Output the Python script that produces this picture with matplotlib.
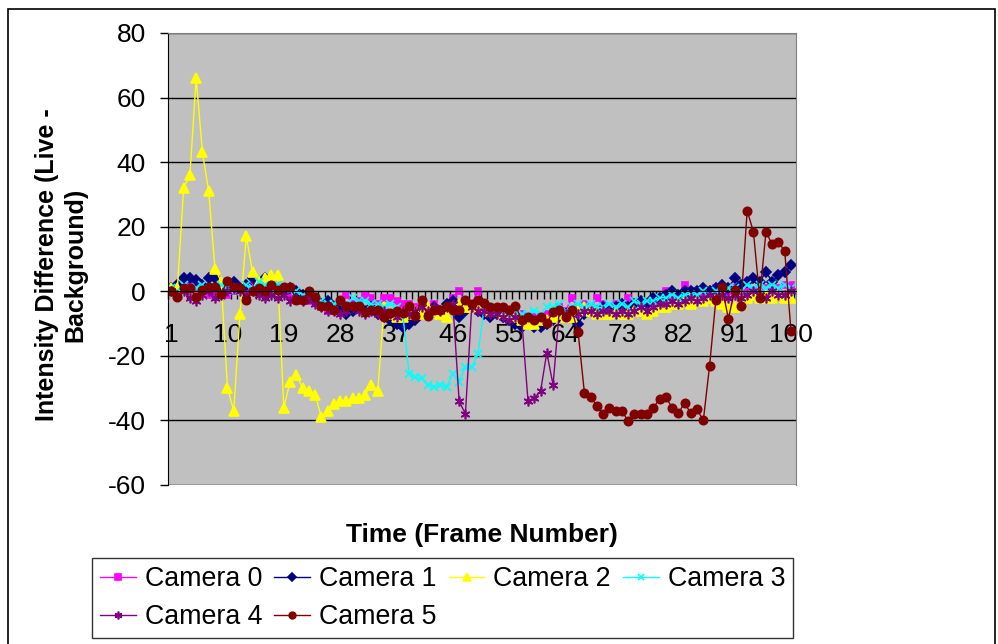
import matplotlib.pyplot as plt
from matplotlib.patches import Rectangle

plt.rcParams['font.family'] = ['Liberation Sans', 'DejaVu Sans']
plt.rcParams['axes.unicode_minus'] = False

# frame numbers and per-camera intensity differences (live - background)
frames = list(range(1, 101))

camera0 = [1, 0, 1, 2, 1, 0, -1, 0, 1, -1,
           0, 1, 1, 2, 3, 2, 2, 1, 0, -1,
           -1, -2, -3, -2, -4, -6, -6, -4, -1, -4,
           -3, -1, -2, -4, -2, -2, -3, -4, -4, -5,
           -6, -5, -4, -6, -5, -2, 0, -3, -4, 0,
           -4, -5, -6, -6, -7, -8, -7, -9, -8, -8,
           -7, -6, -5, -6, -2, -5, -4, -5, -2, -4,
           -5, -4, -5, -2, -4, -3, -4, -3, -2, 0,
           -1, -1, 2, 0, 0, -1, 0, 1, -4, 0,
           1, 0, 1, 0, 2, 1, 0, 1, 2, 2]

camera1 = [1, 2, 4, 4, 3.5, 2, 4, 4, 2, 1,
           3, 1, 2, 4, 2, 4, 2, 1, 0, 1,
           0, -1, -2, -3, -4, -3, -5, -6, -7, -6,
           -5, -6, -5, -7, -8, -9, -10, -11, -10, -9,
           -7, -6, -5, -6, -4, -3, -8, -6, -5, -6,
           -7, -8, -7, -8, -9, -10, -11, -10, -11, -11,
           -10, -9, -8, -7, -8, -10, -7, -6, -6, -5,
           -6, -5, -4, -5, -4, -3, -4, -2, -2, -1,
           0, -1, 0, 0, 0, 1, 0, 1, 2, 1,
           4, 2, 3, 4, 3, 6, 3, 5, 6, 8]

camera2 = [1, 1, 32, 36, 66, 43, 31, 7, 3, -30,
           -37, -7, 17, 6, 3, 4, 5, 5, -36, -28,
           -26, -30, -31, -32, -39, -37, -35, -34, -34, -33,
           -33, -32, -29, -31, -5, -7, -8, -8, -7, -6,
           -7, -5, -6, -7, -8, -5, -4, -5, -5, -4,
           -5, -6, -6, -7, -7, -8, -9, -10, -10, -9,
           -9, -8, -7, -8, -8, -6, -5, -6, -7, -7,
           -7, -6, -7, -7, -6, -6, -7, -6, -5, -5,
           -4, -4, -3, -4, -3, -3, -2, -3, -4, -5,
           -5, -4, -2, -1, -2, -1, -2, -1, -2, -2]

camera3 = [1, 0, 2, 1, 1, 2, 0, 1, 2, 1,
           0, 1, 2, 1, 3, 2, 1, 2, 1, 0,
           0, -1, -1, -2, -3, -4, -4, -3, -4, -2,
           -3, -3, -4, -4, -5, -4, -5, -7, -25.5, -26.5,
           -27, -29, -29.5, -29, -29.5, -25.5, -28, -23.5, -23.5, -19.5,
           -5, -5, -6, -6, -7, -6, -7, -7, -6, -7,
           -5, -5, -4, -6, -5, -4, -5, -4, -5, -5,
           -4, -5, -4, -5, -3, -4, -3, -3, -2, -2,
           -1, -2, -1, -1, -1, 0, -1, 0, 0, 1,
           1, 0, 2, 1, 2, 1, 2, 1, 2, 1]

camera4 = [0, -1, 0, -2, -3, -1, 0, -2, -1, 0,
           1, 0, -1, 0, -1, -2, -1, -2, -1, -3,
           -2, -3, -2, -4, -5, -6, -6, -7, -6, -5,
           -6, -7, -6, -7, -6, -7, -8, -6, -7, -6,
           -5, -6, -5, -6, -5, -4, -34, -38, -5, -6,
           -6, -7, -7, -8, -9, -8, -9, -34, -33, -31,
           -19, -29, -6, -7, -6, -7, -6, -6, -7, -6,
           -6, -7, -6, -7, -6, -5, -6, -5, -4, -4,
           -3, -4, -3, -2, -3, -2, -1, -2, -1, -2,
           -1, -2, -1, 0, -1, -2, 0, -1, -1, 0]

camera5 = [0, -1.7, 1.1, 1.1, -1.8, 0.3, 1.3, 1.3, -0.7, 3.2,
           1.3, 1.1, -2.6, 0.1, 1.1, 0.1, 1.9, 0.5, 1.3, 1.3,
           -2.6, -2.8, 0.1, -1.7, -4.6, -4.6, -5.9, -2.6, -4.6, -4.6,
           -4.6, -6.4, -5.9, -5.9, -8.1, -6.7, -6.1, -6.7, -4.6, -7.7,
           -2.6, -7.7, -5.9, -5.9, -4.6, -5.9, -5.9, -2.8, -3.8, -2.8,
           -3.5, -4.8, -4.8, -4.8, -5.9, -4.6, -8.8, -8.1, -8.8, -7.9,
           -9.8, -6.4, -5.9, -7.9, -5.9, -12.6, -31.4, -32.7, -35.5, -37.9,
           -36, -37.1, -37.1, -40.2, -38, -38, -38, -36, -33.5, -32.7,
           -36, -37.8, -34.6, -37.8, -36.6, -40, -23, -2.6, 1.3, -8.5,
           0.3, -4.6, 25, 18.4, -2, 18.4, 14.5, 15.3, 12.4, -12.4]

names = ["Camera 0", "Camera 1", "Camera 2", "Camera 3", "Camera 4", "Camera 5"]
values = [camera0, camera1, camera2, camera3, camera4, camera5]
colors = ["#FF00FF", "#000080", "#FFFF00", "#00FFFF", "#800080", "#800000"]
markers = ["s", "D", "^", "x", (6, 2, 0), "o"]
sizes = [5, 5, 6.5, 6, 7, 6]

fig = plt.figure(figsize=(9.98, 6.44), dpi=100)
fig.patches.append(Rectangle((8 / 998, -0.1), 987 / 998, 1.1 - 9 / 644,
                             transform=fig.transFigure, fill=False,
                             edgecolor="black", lw=1.2))

ax = fig.add_axes([168 / 998, 1 - 485 / 644, 628 / 998, 452 / 644])
ax.set_facecolor("#C0C0C0")

lines = []
for name, vals, col, mk, ms in zip(names, values, colors, markers, sizes):
    ln, = ax.plot(frames, vals, color=col, lw=1, marker=mk, markersize=ms,
                  markerfacecolor=col, markeredgecolor=col,
                  markeredgewidth=1.2, label=name)
    lines.append(ln)

ax.set_ylim(-60, 80)
ax.set_yticks(range(-60, 81, 20))
ax.yaxis.grid(True, color="black", lw=1)
ax.set_axisbelow(True)
ax.tick_params(axis="y", direction="out", length=6, width=1, pad=10,
               labelsize=19)

ax.set_xlim(0.76, 100.8)
ax.set_xticks(range(1, 101, 9))
ax.set_xticks([f + 0.5 for f in range(0, 101)], minor=True)
ax.tick_params(axis="x", which="major", length=0, pad=23, labelsize=19)
ax.tick_params(axis="x", which="minor", direction="out", length=6, width=1)

ax.spines["bottom"].set_position(("data", 0))
ax.spines["left"].set_color("black")
for side in ["top", "right"]:
    ax.spines[side].set_color("#808080")

fig.text(482 / 998, 1 - 535 / 644, "Time (Frame Number)", fontsize=19,
         fontweight="bold", ha="center", va="center")

fig.text(61 / 998, 1 - 265 / 644, "Intensity Difference (Live -\nBackground)",
         fontsize=18, fontweight="bold", rotation=90, ha="center",
         va="center", multialignment="center", linespacing=1.25)

# legend fills column by column, so interleave to get row order
order = [0, 4, 1, 5, 2, 3]
fig.legend([lines[i] for i in order], [names[i] for i in order],
           loc="upper left", bbox_to_anchor=(92 / 998, 1 - 558 / 644),
           ncol=4, fontsize=19.3, frameon=True, fancybox=False,
           edgecolor="black", borderaxespad=0, borderpad=0.3,
           handlelength=1.33, handletextpad=0.34, columnspacing=0.45,
           labelspacing=0.45, numpoints=1, markerscale=0.8)

fig.savefig("out.png", dpi=100)
